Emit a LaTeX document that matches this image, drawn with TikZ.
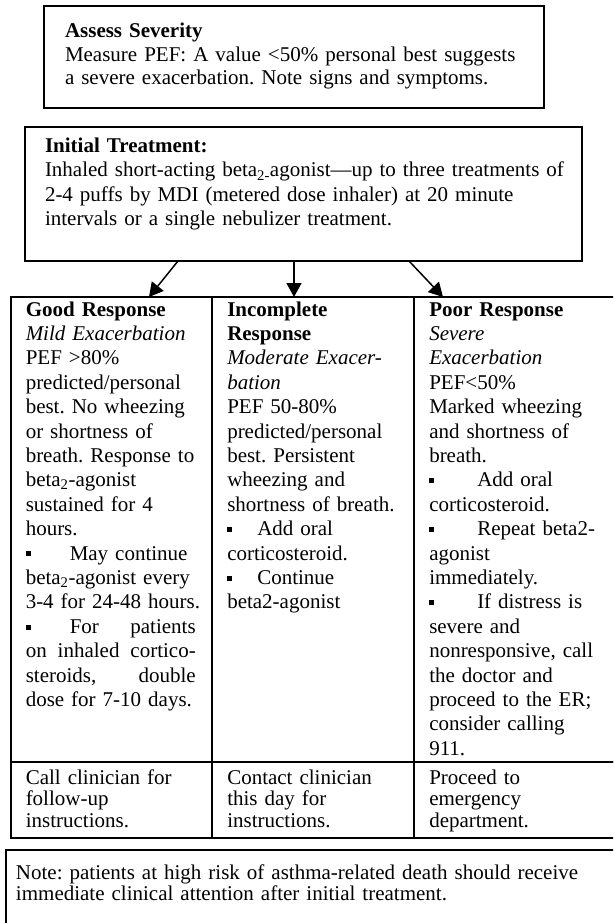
\documentclass[tikz,border=0pt]{standalone}
\usepackage{fontspec}
\setmainfont{Liberation Serif}
\usepackage{tikz}
\usetikzlibrary{arrows.meta,positioning}
\frenchspacing
\newcommand{\sqmark}[1]{\makebox[#1][l]{\rule[0.17em]{0.24em}{0.24em}}}
\newcommand{\fullline}[1]{\makebox[170pt][s]{#1}}

\begin{document}
\begin{tikzpicture}[x=1pt, y=-1pt,
  frame/.style={draw=black, line width=1.5pt, inner sep=0pt, outer sep=0pt},
  cell/.style={draw=black, line width=1.6pt, inner sep=0pt, outer sep=0pt,
    minimum width=201.5pt},
  txt/.style={inner sep=0pt, outer sep=0pt, anchor=base west, align=left,
    text width=#1},
  lead/.style={font=\fontsize{21}{#1}\selectfont},
  flow/.style={-{Triangle[length=14pt,width=15pt]}, line width=1.5pt}
]
\useasboundingbox (0,0) rectangle (613,923);
\clip (0,0) rectangle (613,923);

% boxes at the top
\node[frame, minimum width=500pt, minimum height=102pt] (assess) at (294,57) {};
\node[frame, minimum width=557pt, minimum height=134pt] (initial) at (303.5,194) {};
\node[txt=470pt, lead=23.5pt] (assesstxt) at ([xshift=21pt,yshift=-32pt]assess.north west)
  {\textbf{Assess Severity}\\
   Measure PEF: A value <50\% personal best suggests\\
   a severe exacerbation. Note signs and symptoms.};
\node[txt=540pt, lead=24pt] (initialtxt) at ([xshift=20pt,yshift=-26pt]initial.north west)
  {\textbf{Initial Treatment:}\\
   Inhaled short-acting beta\textsubscript{2-}agonist---up to three treatments of\\
   2-4 puffs by MDI (metered dose inhaler) at 20 minute\\
   intervals or a single nebulizer treatment.};

% response table
\node[cell, minimum height=465pt] (good) at (111.5,529.5) {};
\node[cell, minimum height=465pt] (incomplete) at (313,529.5) {};
\node[cell, minimum height=465pt] (poor) at (515,529.5) {};
\node[cell, minimum height=76pt] (goodnext) at (111.5,800) {};
\node[cell, minimum height=76pt] (incompletenext) at (313,800) {};
\node[cell, minimum height=76pt] (poornext) at (515,800) {};

\node[txt=185pt, lead=24.4pt] (goodtxt) at ([xshift=15pt,yshift=-19pt]good.north west)
  {\textbf{Good Response}\\
   \textit{Mild Exacerbation}\\
   PEF >80\%\\
   predicted/personal\\
   best. No wheezing\\
   or shortness of\\
   breath. Response to\\
   beta\textsubscript{2}-agonist\\
   sustained for 4\\
   hours.\\
   \sqmark{44pt}May continue\\
   beta\textsubscript{2}-agonist every\\
   3-4 for 24-48 hours.\\
   \fullline{\sqmark{44pt}For\hfill patients}\\
   \fullline{on\hfill inhaled\hfill cortico-}\\
   \fullline{steroids,\hfill double}\\
   dose for 7-10 days.};
\node[txt=185pt, lead=24.4pt] (incompletetxt) at ([xshift=15pt,yshift=-19pt]incomplete.north west)
  {\textbf{Incomplete}\\
   \textbf{Response}\\
   \textit{Moderate Exacer-}\\
   \textit{bation}\\
   PEF 50-80\%\\
   predicted/personal\\
   best. Persistent\\
   wheezing and\\
   shortness of breath.\\
   \sqmark{30pt}Add oral\\
   corticosteroid.\\
   \sqmark{30pt}Continue\\
   beta2-agonist};
\node[txt=185pt, lead=24.4pt] (poortxt) at ([xshift=15pt,yshift=-19pt]poor.north west)
  {\textbf{Poor Response}\\
   \textit{Severe}\\
   \textit{Exacerbation}\\
   PEF<50\%\\
   Marked wheezing\\
   and shortness of\\
   breath.\\
   \sqmark{48pt}Add oral\\
   corticosteroid.\\
   \sqmark{48pt}Repeat beta2-\\
   agonist\\
   immediately.\\
   \sqmark{48pt}If distress is\\
   severe and\\
   nonresponsive, call\\
   the doctor and\\
   proceed to the ER;\\
   consider calling\\
   911.};

\node[txt=185pt, lead=21.5pt] (goodnexttxt) at ([xshift=15pt,yshift=-22pt]goodnext.north west)
  {Call clinician for\\ follow-up\\ instructions.};
\node[txt=185pt, lead=21.5pt] (incompletenexttxt) at ([xshift=15pt,yshift=-22pt]incompletenext.north west)
  {Contact clinician\\ this day for\\ instructions.};
\node[txt=185pt, lead=21.5pt] (poornexttxt) at ([xshift=15pt,yshift=-22pt]poornext.north west)
  {Proceed to\\ emergency\\ department.};

% note at the bottom
\node[frame, minimum width=614pt, minimum height=80pt] (note) at (313,890) {};
\node[txt=590pt, lead=21.5pt] (notetxt) at ([xshift=10pt,yshift=-29pt]note.north west)
  {Note: patients at high risk of asthma-related death should receive\\
   immediate clinical attention after initial treatment.};

\draw[flow] ([xshift=-125.5pt]initial.south) -- ([xshift=37.5pt]good.north);
\draw[flow] ([xshift=-9.5pt]initial.south) -- ([xshift=-19pt]incomplete.north);
\draw[flow] ([xshift=105.5pt]initial.south) -- ([xshift=-72pt]poor.north);
\end{tikzpicture}
\end{document}
